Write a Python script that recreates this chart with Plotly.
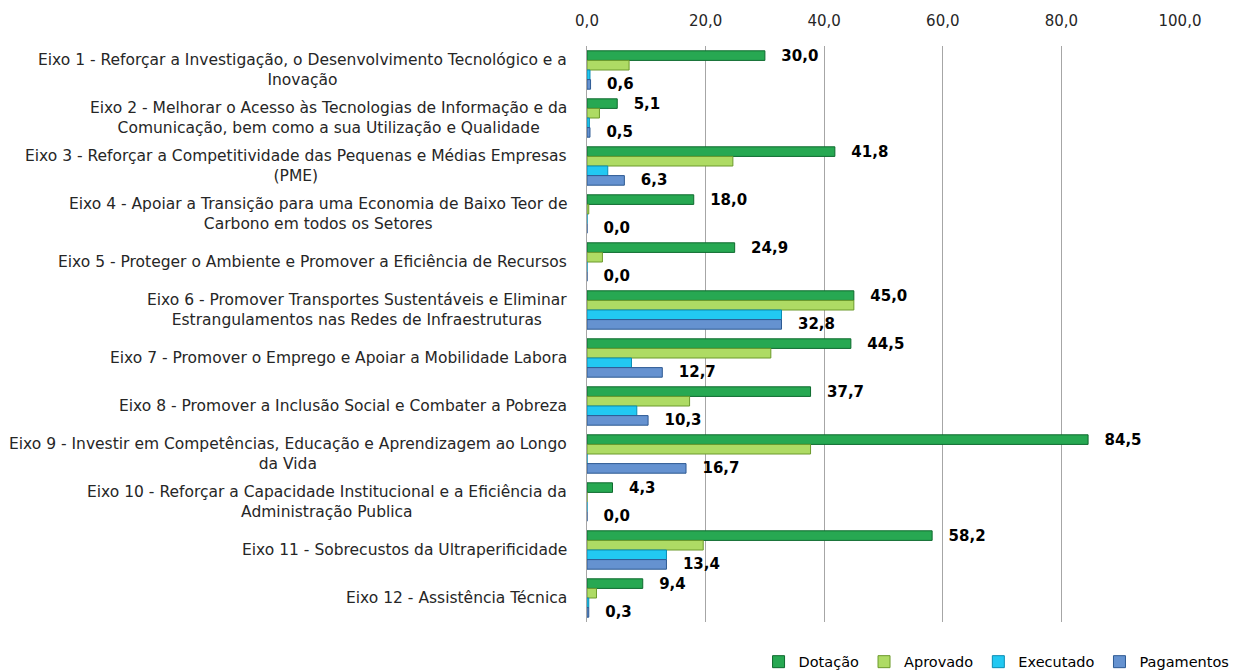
import plotly.graph_objects as go

categories = [
    "Eixo 1 - Reforçar a Investigação, o Desenvolvimento Tecnológico e a<br>Inovação",
    "Eixo 2 - Melhorar o Acesso às Tecnologias de Informação e da<br>Comunicação, bem como a sua Utilização e Qualidade",
    "Eixo 3 - Reforçar a Competitividade das Pequenas e Médias Empresas<br>(PME)",
    "Eixo 4 - Apoiar a Transição para uma Economia de Baixo Teor de<br>Carbono em todos os Setores",
    "Eixo 5 - Proteger o Ambiente e Promover a Eficiência de Recursos",
    "Eixo 6 - Promover Transportes Sustentáveis e Eliminar<br>Estrangulamentos nas Redes de Infraestruturas",
    "Eixo 7 - Promover o Emprego e Apoiar a Mobilidade Labora",
    "Eixo 8 - Promover a Inclusão Social e Combater a Pobreza",
    "Eixo 9 - Investir em Competências, Educação e Aprendizagem ao Longo<br>da Vida",
    "Eixo 10 - Reforçar a Capacidade Institucional e a Eficiência da<br>Administração Publica",
    "Eixo 11 - Sobrecustos da Ultraperificidade",
    "Eixo 12 - Assistência Técnica",
]
dotacao = [30.0, 5.1, 41.8, 18.0, 24.9, 45.0, 44.5, 37.7, 84.5, 4.3, 58.2, 9.4]
aprovado = [7.1, 2.1, 24.6, 0.3, 2.6, 45.0, 31.0, 17.3, 37.7, 0.0, 19.6, 1.6]
executado = [0.5, 0.4, 3.5, 0.0, 0.0, 32.8, 7.5, 8.4, 0.0, 0.0, 13.4, 0.3]
pagamentos = [0.6, 0.5, 6.3, 0.0, 0.0, 32.8, 12.7, 10.3, 16.7, 0.0, 13.4, 0.3]
tick_vals = [0, 20, 40, 60, 80, 100]
tick_text = ["0,0", "20,0", "40,0", "60,0", "80,0", "100,0"]

FONT = "DejaVu Sans"

def fmt(v):
    return "  \u2009" + f"{v:.1f}".replace(".", ",")

series = [
    ("Dotação", dotacao, "#27A852", "#0E6A2E", True),
    ("Aprovado", aprovado, "#AEDB64", "#6C9A2C", False),
    ("Executado", executado, "#22C8F2", "#0A8DB4", False),
    ("Pagamentos", pagamentos, "#6592D0", "#2E5A93", True),
]

fig = go.Figure()
for name, vals, col, lcol, lab in series:
    fig.add_trace(go.Bar(
        name=name, y=categories, x=vals, orientation="h",
        marker=dict(color=col, line=dict(color=lcol, width=1)),
        text=[fmt(v) for v in vals] if lab else None,
        textposition="outside" if lab else "none",
        constraintext="none",
        cliponaxis=False,
        textfont=dict(family=FONT, size=15, color="#000000", weight="bold"),
    ))

for c in categories:
    fig.add_annotation(
        x=0, xref="paper", y=c, yref="y", text=c, showarrow=False,
        xanchor="right", align="center", xshift=-18,
        font=dict(family=FONT, size=15.5, color="#262626"),
    )

fig.update_layout(
    width=1232, height=664,
    barmode="group", bargap=0.2, bargroupgap=0.0,
    plot_bgcolor="white", paper_bgcolor="white",
    margin=dict(l=579, r=60, t=38, b=50, autoexpand=False),
    font=dict(family=FONT, size=15, color="#262626"),
    xaxis=dict(
        side="top", range=[0, 100], tickvals=tick_vals, ticktext=tick_text,
        showgrid=True, gridcolor="#A6A6A6", gridwidth=1, zeroline=False,
        showline=False, ticks="", ticklabelstandoff=16,
        tickfont=dict(family=FONT, size=15, color="#262626"),
    ),
    yaxis=dict(
        autorange="reversed", showticklabels=False, showgrid=False,
        showline=True, linecolor="#A6A6A6", linewidth=1, ticks="",
    ),
    legend=dict(
        orientation="h", x=1.092, xanchor="right", y=-0.069, yanchor="middle",
        font=dict(family=FONT, size=14.5, color="#000000"), itemwidth=30,
        traceorder="normal", tracegroupgap=0,
    ),
    showlegend=True,
)

fig.write_html("out.html")
